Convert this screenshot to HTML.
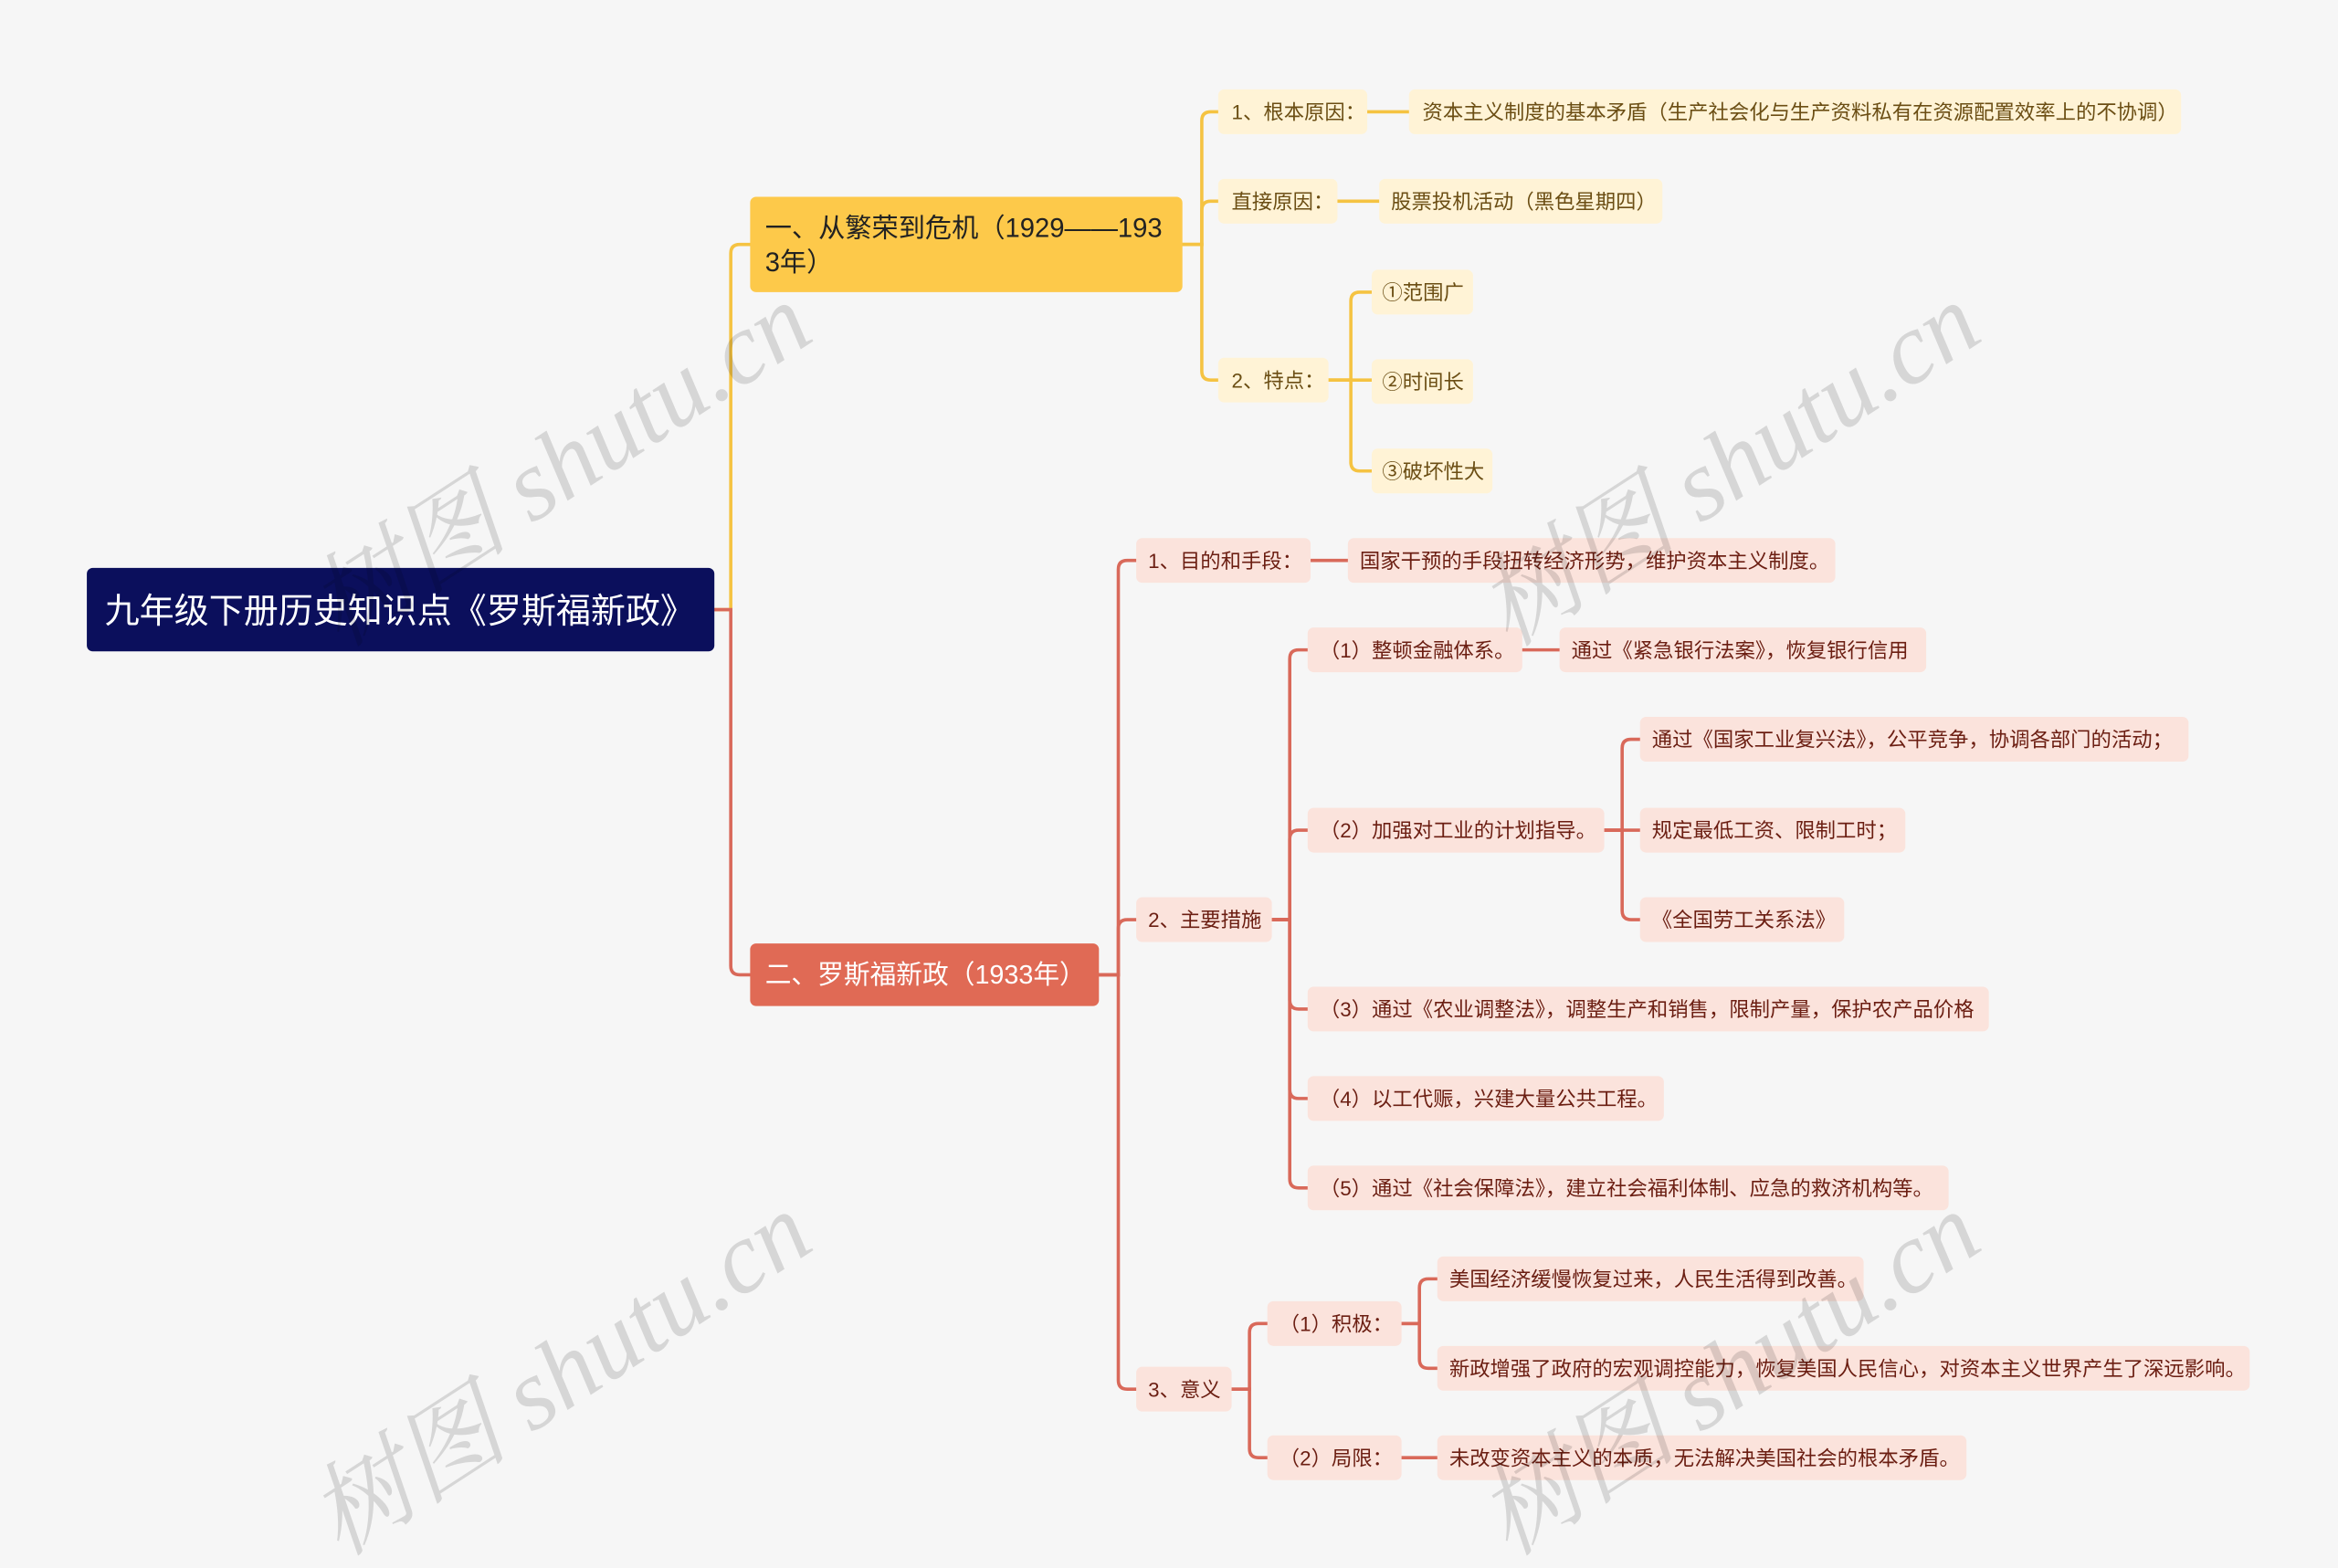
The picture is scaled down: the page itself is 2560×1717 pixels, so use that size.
<!DOCTYPE html>
<html><head><meta charset="utf-8"><style>
html,body{margin:0;padding:0;background:#f6f6f6;}
svg{display:block;}
text{font-family:"Liberation Sans","Noto Sans CJK SC",sans-serif;}
.y{fill:#fff3d6}.yt{fill:#6b4e14;font-size:13.7px}
.r{fill:#fbe3dc}.rt{fill:#6b1e12;font-size:13.7px}
.wm{fill:#000;fill-opacity:0.13;font-family:"Liberation Serif","Noto Serif CJK SC",serif;font-style:italic;font-size:68px}
</style></head><body>
<svg width="2560" height="1717" viewBox="0 0 1568 1052" xmlns="http://www.w3.org/2000/svg">
<rect width="1568" height="1052" fill="#f6f6f6"/>
<g fill="none" stroke-width="2.2" stroke-linecap="round">
<g stroke="#f5c342">
<path d="M479 409 H490 V170 Q490 164 496 164 H503"/>
<path d="M793 164 H806 V81 Q806 75 812 75 H817"/>
<path d="M793 164 H806 V141 Q806 135 812 135 H817"/>
<path d="M793 164 H806 V249 Q806 255 812 255 H817"/>
<path d="M917 75 H945"/><path d="M897 135 H925"/>
<path d="M891 255 H906 V202 Q906 196 912 196 H920"/>
<path d="M891 255 H920"/>
<path d="M891 255 H906 V310 Q906 316 912 316 H920"/>
</g>
<g stroke="#d9695a">
<path d="M479 409 H490 V648 Q490 654 496 654 H503"/>
<path d="M737 654 H750 V382 Q750 376 756 376 H762"/>
<path d="M737 654 H750 V623 Q750 617 756 617 H762"/>
<path d="M737 654 H750 V926 Q750 932 756 932 H762"/>
<path d="M879 376 H904"/>
<path d="M853 617 H865 V442 Q865 436 871 436 H877"/>
<path d="M853 617 H865 V563 Q865 557 871 557 H877"/>
<path d="M853 617 H865 V671 Q865 677 871 677 H877"/>
<path d="M853 617 H865 V731 Q865 737 871 737 H877"/>
<path d="M853 617 H865 V791 Q865 797 871 797 H877"/>
<path d="M1021 436 H1046"/>
<path d="M1076 557 H1088 V502 Q1088 496 1094 496 H1100"/>
<path d="M1076 557 H1100"/>
<path d="M1076 557 H1088 V611 Q1088 617 1094 617 H1100"/>
<path d="M826 932 H838 V894 Q838 888 844 888 H850"/>
<path d="M826 932 H838 V972 Q838 978 844 978 H850"/>
<path d="M940 888 H952 V864 Q952 858 958 858 H964"/>
<path d="M940 888 H952 V912 Q952 918 958 918 H964"/>
<path d="M940 978 H964"/>
</g>
</g>
<rect x="58" y="381" width="421" height="56" rx="4" fill="#0b0f5c"/>
<text x="70" y="418" fill="#fff" style="font-size:23.3px">九年级下册历史知识点《罗斯福新政》</text>
<rect x="503" y="132" width="290" height="64" rx="4" fill="#fdc94a"/>
<text x="513" y="159" fill="#222" style="font-size:17.9px">一、从繁荣到危机（1929——193</text>
<text x="513" y="182" fill="#222" style="font-size:17.9px">3年）</text>
<rect x="503" y="633" width="234" height="42" rx="4" fill="#e06a55"/>
<text x="513" y="660" fill="#fff" style="font-size:17.6px">二、罗斯福新政（1933年）</text>
<g>
<rect class="y" x="817" y="60" width="100" height="30" rx="4"/><text class="yt" x="826" y="80">1、根本原因：</text>
<rect class="y" x="945" y="60" width="518" height="30" rx="4"/><text class="yt" x="954" y="80">资本主义制度的基本矛盾（生产社会化与生产资料私有在资源配置效率上的不协调）</text>
<rect class="y" x="817" y="120" width="80" height="30" rx="4"/><text class="yt" x="826" y="140">直接原因：</text>
<rect class="y" x="925" y="120" width="190" height="30" rx="4"/><text class="yt" x="933" y="140">股票投机活动（黑色星期四）</text>
<rect class="y" x="817" y="240" width="74" height="30" rx="4"/><text class="yt" x="826" y="260">2、特点：</text>
<rect class="y" x="920" y="181" width="68" height="30" rx="4"/><text class="yt" x="927" y="201">①范围广</text>
<rect class="y" x="920" y="241" width="68" height="30" rx="4"/><text class="yt" x="927" y="261">②时间长</text>
<rect class="y" x="920" y="301" width="81" height="30" rx="4"/><text class="yt" x="927" y="321">③破坏性大</text>
</g>
<g>
<rect class="r" x="762" y="361" width="117" height="30" rx="4"/><text class="rt" x="770" y="381">1、目的和手段：</text>
<rect class="r" x="904" y="361" width="327" height="30" rx="4"/><text class="rt" x="912" y="381">国家干预的手段扭转经济形势，维护资本主义制度。</text>
<rect class="r" x="762" y="602" width="91" height="30" rx="4"/><text class="rt" x="770" y="622">2、主要措施</text>
<rect class="r" x="877" y="421" width="144" height="30" rx="4"/><text class="rt" x="885" y="441">（1）整顿金融体系。</text>
<rect class="r" x="1046" y="421" width="246" height="30" rx="4"/><text class="rt" x="1054" y="441">通过《紧急银行法案》，恢复银行信用</text>
<rect class="r" x="877" y="542" width="199" height="30" rx="4"/><text class="rt" x="885" y="562">（2）加强对工业的计划指导。</text>
<rect class="r" x="1100" y="481" width="368" height="30" rx="4"/><text class="rt" x="1108" y="501">通过《国家工业复兴法》，公平竞争，协调各部门的活动；</text>
<rect class="r" x="1100" y="542" width="178" height="30" rx="4"/><text class="rt" x="1108" y="562">规定最低工资、限制工时；</text>
<rect class="r" x="1100" y="602" width="137" height="30" rx="4"/><text class="rt" x="1108" y="622">《全国劳工关系法》</text>
<rect class="r" x="877" y="662" width="457" height="30" rx="4"/><text class="rt" x="885" y="682">（3）通过《农业调整法》，调整生产和销售，限制产量，保护农产品价格</text>
<rect class="r" x="877" y="722" width="239" height="30" rx="4"/><text class="rt" x="885" y="742">（4）以工代赈，兴建大量公共工程。</text>
<rect class="r" x="877" y="782" width="430" height="30" rx="4"/><text class="rt" x="885" y="802">（5）通过《社会保障法》，建立社会福利体制、应急的救济机构等。</text>
<rect class="r" x="762" y="917" width="64" height="30" rx="4"/><text class="rt" x="770" y="937">3、意义</text>
<rect class="r" x="850" y="873" width="90" height="30" rx="4"/><text class="rt" x="858" y="893">（1）积极：</text>
<rect class="r" x="850" y="963" width="90" height="30" rx="4"/><text class="rt" x="858" y="983">（2）局限：</text>
<rect class="r" x="964" y="843" width="286" height="30" rx="4"/><text class="rt" x="972" y="863">美国经济缓慢恢复过来，人民生活得到改善。</text>
<rect class="r" x="964" y="903" width="545" height="30" rx="4"/><text class="rt" x="972" y="923">新政增强了政府的宏观调控能力，恢复美国人民信心，对资本主义世界产生了深远影响。</text>
<rect class="r" x="964" y="963" width="355" height="30" rx="4"/><text class="rt" x="972" y="983">未改变资本主义的本质，无法解决美国社会的根本矛盾。</text>
</g>
<text class="wm" transform="translate(228,435) rotate(-33)">树图 shutu.cn</text>
<text class="wm" transform="translate(228,1045) rotate(-33)">树图 shutu.cn</text>
<text class="wm" transform="translate(1012,435) rotate(-33)">树图 shutu.cn</text>
<text class="wm" transform="translate(1012,1045) rotate(-33)">树图 shutu.cn</text>
</svg>
</body></html>
